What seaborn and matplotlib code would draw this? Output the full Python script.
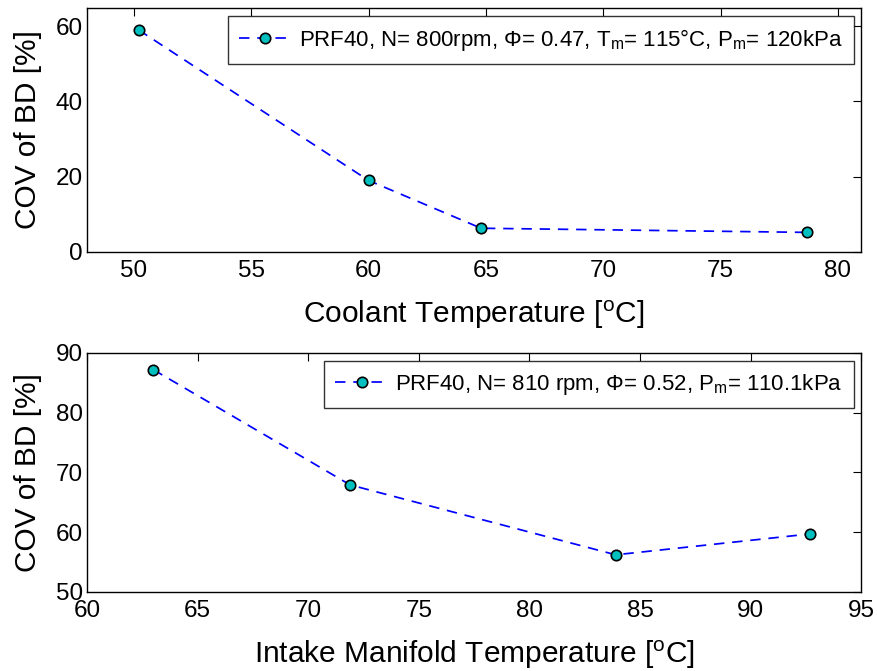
import matplotlib
matplotlib.use("Agg")
import matplotlib.pyplot as plt
import seaborn as sns
import pandas as pd

# Coolant temperature sweep
coolant_temp = [50.2, 60.0, 64.8, 78.7]
coolant_cov = [59.0, 19.0, 6.3, 5.2]
coolant_label = r"PRF40, N= 800rpm, Φ= 0.47, T$_{\rm m}$= 115°C, P$_{\rm m}$= 120kPa"

# Intake manifold temperature sweep
intake_temp = [63.0, 71.9, 83.9, 92.7]
intake_cov = [87.2, 67.9, 56.2, 59.7]
intake_label = r"PRF40, N= 810 rpm, Φ= 0.52, P$_{\rm m}$= 110.1kPa"

sns.set_style("white")
plt.rcParams["font.family"] = ["Liberation Sans", "DejaVu Sans"]
plt.rcParams["mathtext.fontset"] = "custom"
plt.rcParams["mathtext.rm"] = "Liberation Sans"
plt.rcParams["mathtext.it"] = "Liberation Sans"
plt.rcParams["text.color"] = "black"
plt.rcParams["axes.labelcolor"] = "black"
plt.rcParams["xtick.color"] = "black"
plt.rcParams["ytick.color"] = "black"

fig = plt.figure(figsize=(8.78, 6.71), dpi=100)
ax1 = fig.add_axes([0.099, 0.6245, 0.882, 0.3635])
ax2 = fig.add_axes([0.099, 0.118, 0.882, 0.356])

face = "#00bfbf"
tick_fs = 17.5
label_fs = 21.5
legend_fs = 16


def draw(ax, x, y, label):
    df = pd.DataFrame({"x": x, "y": y})
    sns.lineplot(data=df, x="x", y="y", ax=ax, sort=False, color="blue",
                 linestyle=(0, (6, 4.5)), linewidth=1.25, marker="o",
                 markersize=7.5, markerfacecolor=face, markeredgecolor="black",
                 markeredgewidth=1.2, label=label)
    leg = ax.legend(loc="upper right", fontsize=legend_fs, frameon=True,
                    fancybox=False, handlelength=2.4, handletextpad=0.3,
                    borderpad=0.5, borderaxespad=0.35)
    leg.get_frame().set_edgecolor("black")
    leg.get_frame().set_linewidth(1.0)
    for s in ax.spines.values():
        s.set_visible(True)
        s.set_color("black")
        s.set_linewidth(1.0)
    ax.tick_params(direction="in", top=True, right=True, length=6, width=0.8,
                   labelsize=tick_fs, colors="black")
    ax.tick_params(axis="x", pad=6)
    ax.tick_params(axis="y", pad=3)


draw(ax1, coolant_temp, coolant_cov, coolant_label)
ax1.set_xlim(48, 81)
ax1.set_ylim(0, 64.8)
ax1.set_xticks([50, 55, 60, 65, 70, 75, 80])
ax1.set_yticks([0, 20, 40, 60])
ax1.set_xlabel(r"Coolant Temperature [$^{\rm o}$C]", fontsize=label_fs, labelpad=12)
ax1.set_ylabel("COV of BD [%]", fontsize=label_fs, labelpad=10)

draw(ax2, intake_temp, intake_cov, intake_label)
ax2.set_xlim(60, 95)
ax2.set_ylim(50, 90)
ax2.set_xticks([60, 65, 70, 75, 80, 85, 90, 95])
ax2.set_yticks([50, 60, 70, 80, 90])
ax2.set_xlabel(r"Intake Manifold Temperature [$^{\rm o}$C]", fontsize=label_fs, labelpad=12)
ax2.set_ylabel("COV of BD [%]", fontsize=label_fs, labelpad=10)

fig.savefig("out.png", dpi=100)
